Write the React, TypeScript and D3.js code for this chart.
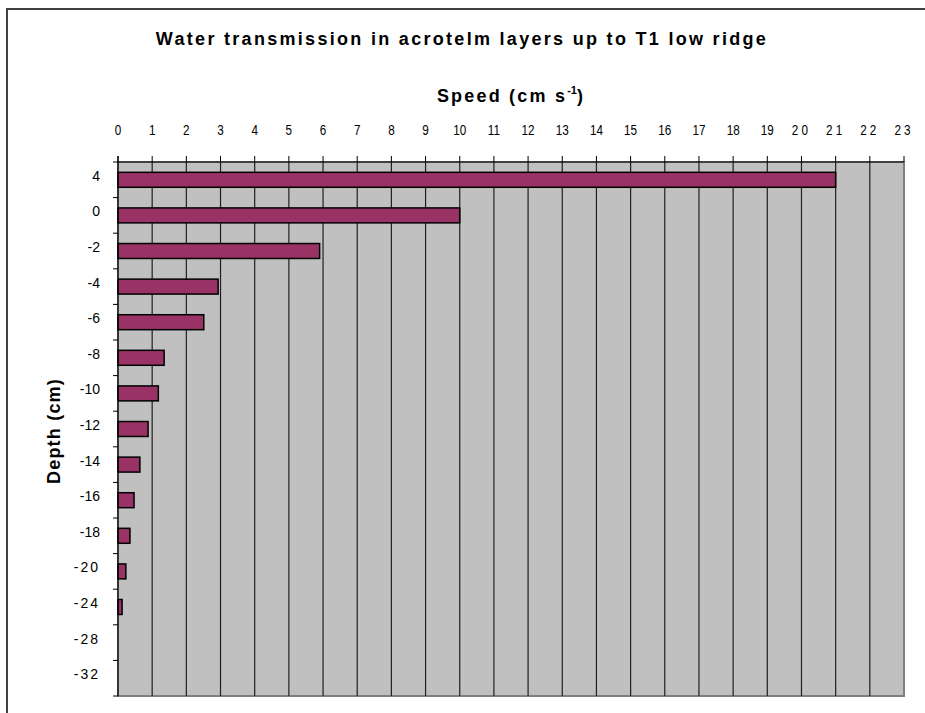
import React from "react";
import * as d3 from "d3";

const depths = ["4", "0", "-2", "-4", "-6", "-8", "-10", "-12", "-14", "-16", "-18", "-20", "-24", "-28", "-32"];
const speeds = [21, 10, 5.9, 2.93, 2.51, 1.35, 1.18, 0.88, 0.64, 0.47, 0.35, 0.23, 0.12, 0, 0];
const xTicks = d3.range(0, 24);

const W = 925, H = 713;
const plot = { left: 118, right: 904, top: 162, bottom: 696 };

export default function App() {
  const x = d3.scaleLinear().domain([0, 23]).range([plot.left, plot.right]);
  const y = d3.scaleBand<string>().domain(depths).range([plot.top, plot.bottom]).paddingInner(0.58).paddingOuter(0.29);
  const band = d3.scaleBand<string>().domain(depths).range([plot.top, plot.bottom]);
  const font = "'Liberation Sans', Arial, sans-serif";
  return (
    <svg width={W} height={H} style={{ position: "absolute", left: 0, top: 0 }}>
      <rect x={0} y={0} width={W} height={H} fill="#fff" />
      <rect x={7} y={9} width={W + 20} height={H + 20} fill="none" stroke="#404040" strokeWidth={2} />
      <text x={462} y={45} textAnchor="middle" fontFamily={font} fontWeight="bold" fontSize={18} letterSpacing={2.3} fill="#000">
        Water transmission in acrotelm layers up to T1 low ridge
      </text>
      <text x={511} y={102} textAnchor="middle" fontFamily={font} fontWeight="bold" fontSize={18} letterSpacing={2.2} fill="#000">
        Speed (cm s<tspan fontSize={11} dy={-8} letterSpacing={0}>-1</tspan><tspan dy={8}>)</tspan>
      </text>
      <rect x={plot.left} y={plot.top} width={plot.right - plot.left} height={plot.bottom - plot.top} fill="#C0C0C0" stroke="#808080" strokeWidth={2} />
      {xTicks.map((t) => (
        <g key={t}>
          {t > 0 && t < 23 && <line x1={x(t)} x2={x(t)} y1={plot.top} y2={plot.bottom} stroke="#202020" strokeWidth={1.2} />}
          <line x1={x(t)} x2={x(t)} y1={plot.top - 6} y2={plot.top} stroke="#000" strokeWidth={1} />
          <text transform={`translate(${x(t)},135) scale(0.78,1)`} textAnchor="middle" fontFamily={font} fontSize={15} letterSpacing={t >= 20 ? 4 : 0} fill="#000">{t}</text>
        </g>
      ))}
      {depths.map((d, i) => (
        <g key={d}>
          <line x1={plot.left - 5} x2={plot.left} y1={band(d)!} y2={band(d)!} stroke="#000" strokeWidth={1} />
          <text x={100} y={band(d)! + band.bandwidth() / 2 + 1} textAnchor="end" fontFamily={font} fontSize={14} letterSpacing={d.startsWith("-2") && d.length >= 3 || d.startsWith("-3") ? 2 : 0} fill="#000">{d}</text>
          {speeds[i] > 0 && (
            <rect x={x(0)} y={y(d)!} width={x(speeds[i]) - x(0)} height={y.bandwidth()} fill="#993366" stroke="#000" strokeWidth={1.5} />
          )}
        </g>
      ))}
      <line x1={plot.left} x2={plot.right} y1={plot.top} y2={plot.top} stroke="#000" strokeWidth={1.2} />
      <line x1={plot.left} x2={plot.left} y1={plot.top - 6} y2={plot.bottom} stroke="#000" strokeWidth={1.2} />
      <line x1={plot.left - 5} x2={plot.left} y1={plot.bottom} y2={plot.bottom} stroke="#000" strokeWidth={1} />
      <text transform={`translate(60,${431}) rotate(-90)`} textAnchor="middle" fontFamily={font} fontWeight="bold" fontSize={18} letterSpacing={1.2} fill="#000">
        Depth (cm)
      </text>
    </svg>
  );
}
